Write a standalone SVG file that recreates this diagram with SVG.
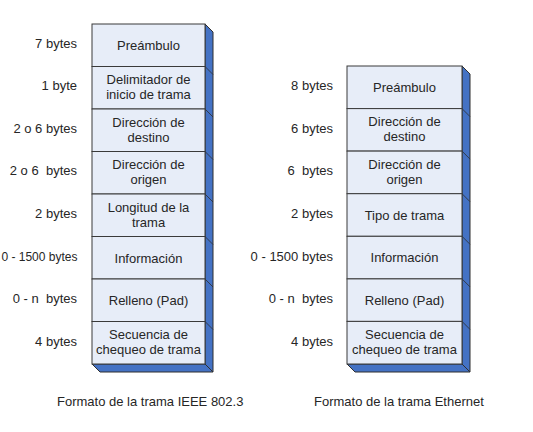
<svg xmlns="http://www.w3.org/2000/svg" width="533" height="432" viewBox="0 0 533 432">
<style>
.bg{fill:#ffffff}
.cell{fill:#e7edf8;stroke:#3a3a3a;stroke-width:1}
.side{fill:#4472c4;stroke:#2f2f2f;stroke-width:1;stroke-linejoin:miter}
.div{stroke:#2f2f2f;stroke-width:0.8;fill:none}
text{font-family:"Liberation Sans",Arial,sans-serif;font-size:13px;fill:#262626}
.c{text-anchor:middle}
.l{text-anchor:end}
.tight{font-size:12px}
</style>
<rect class="bg" x="0" y="0" width="533" height="432"/>
<g id="connectors"/>

<!-- IEEE 802.3 frame -->
<g id="frame-ieee">
  <polygon class="side" points="205,24 213,32 213,372 205,364"/>
  <polygon class="side" points="92,364 100,372 213,372 205,364"/>
  <path class="div" d="M205,66.5 l8,8 M205,109 l8,8 M205,151.5 l8,8 M205,194 l8,8 M205,236.5 l8,8 M205,279 l8,8 M205,321.5 l8,8"/>
</g>
<g id="ieee-preambulo"><rect class="cell" x="92" y="24" width="113" height="42.5"/><text class="c" x="148.5" y="50">Preámbulo</text><text class="l" x="77" y="48" xml:space="preserve">7 bytes</text></g>
<g id="ieee-delimitador"><rect class="cell" x="92" y="66.5" width="113" height="42.5"/><text class="c" x="148.5" y="84">Delimitador de</text><text class="c" x="148.5" y="99">inicio de trama</text><text class="l" x="77" y="90" xml:space="preserve">1 byte</text></g>
<g id="ieee-destino"><rect class="cell" x="92" y="109" width="113" height="42.5"/><text class="c" x="148.5" y="126.5">Dirección de</text><text class="c" x="148.5" y="141.5">destino</text><text class="l" x="77" y="132.5" xml:space="preserve">2 o 6 bytes</text></g>
<g id="ieee-origen"><rect class="cell" x="92" y="151.5" width="113" height="42.5"/><text class="c" x="148.5" y="169">Dirección de</text><text class="c" x="148.5" y="184">origen</text><text class="l" x="77" y="175" xml:space="preserve">2 o 6  bytes</text></g>
<g id="ieee-longitud"><rect class="cell" x="92" y="194" width="113" height="42.5"/><text class="c" x="148.5" y="211.5">Longitud de la</text><text class="c" x="148.5" y="226.5">trama</text><text class="l" x="77" y="217.5" xml:space="preserve">2 bytes</text></g>
<g id="ieee-informacion"><rect class="cell" x="92" y="236.5" width="113" height="42.5"/><text class="c" x="148.5" y="262.5">Información</text><text class="l tight" x="77.5" y="260.5" xml:space="preserve">0 - 1500 bytes</text></g>
<g id="ieee-relleno"><rect class="cell" x="92" y="279" width="113" height="42.5"/><text class="c" x="148.5" y="305">Relleno (Pad)</text><text class="l" x="77" y="303" xml:space="preserve">0 - n  bytes</text></g>
<g id="ieee-secuencia"><rect class="cell" x="92" y="321.5" width="113" height="42.5"/><text class="c" x="148.5" y="339">Secuencia de</text><text class="c" x="148.5" y="354">chequeo de trama</text><text class="l" x="77" y="345.5" xml:space="preserve">4 bytes</text></g>
<g id="caption-ieee"><text x="57" y="405.5">Formato de la trama IEEE 802.3</text></g>

<!-- Ethernet frame -->
<g id="frame-ethernet">
  <polygon class="side" points="462,66 470,74 470,372 462,364"/>
  <polygon class="side" points="347,364 355,372 470,372 462,364"/>
  <path class="div" d="M462,108.6 l8,8 M462,151.1 l8,8 M462,193.7 l8,8 M462,236.3 l8,8 M462,278.9 l8,8 M462,321.4 l8,8"/>
</g>
<g id="eth-preambulo"><rect class="cell" x="347" y="66" width="115" height="42.6"/><text class="c" x="404.5" y="92">Preámbulo</text><text class="l" x="333" y="90" xml:space="preserve">8 bytes</text></g>
<g id="eth-destino"><rect class="cell" x="347" y="108.6" width="115" height="42.5"/><text class="c" x="404.5" y="126">Dirección de</text><text class="c" x="404.5" y="141">destino</text><text class="l" x="333" y="132.5" xml:space="preserve">6 bytes</text></g>
<g id="eth-origen"><rect class="cell" x="347" y="151.1" width="115" height="42.6"/><text class="c" x="404.5" y="168.5">Dirección de</text><text class="c" x="404.5" y="183.5">origen</text><text class="l" x="333" y="175" xml:space="preserve">6  bytes</text></g>
<g id="eth-tipo"><rect class="cell" x="347" y="193.7" width="115" height="42.6"/><text class="c" x="404.5" y="219.5">Tipo de trama</text><text class="l" x="333" y="217.5" xml:space="preserve">2 bytes</text></g>
<g id="eth-informacion"><rect class="cell" x="347" y="236.3" width="115" height="42.6"/><text class="c" x="404.5" y="262">Información</text><text class="l" x="333" y="260.5" xml:space="preserve">0 - 1500 bytes</text></g>
<g id="eth-relleno"><rect class="cell" x="347" y="278.9" width="115" height="42.5"/><text class="c" x="404.5" y="304.5">Relleno (Pad)</text><text class="l" x="333" y="302.5" xml:space="preserve">0 - n  bytes</text></g>
<g id="eth-secuencia"><rect class="cell" x="347" y="321.4" width="115" height="42.6"/><text class="c" x="404.5" y="339">Secuencia de</text><text class="c" x="404.5" y="354">chequeo de trama</text><text class="l" x="333" y="345.5" xml:space="preserve">4 bytes</text></g>
<g id="caption-ethernet"><text x="314" y="405.5">Formato de la trama Ethernet</text></g>
</svg>
